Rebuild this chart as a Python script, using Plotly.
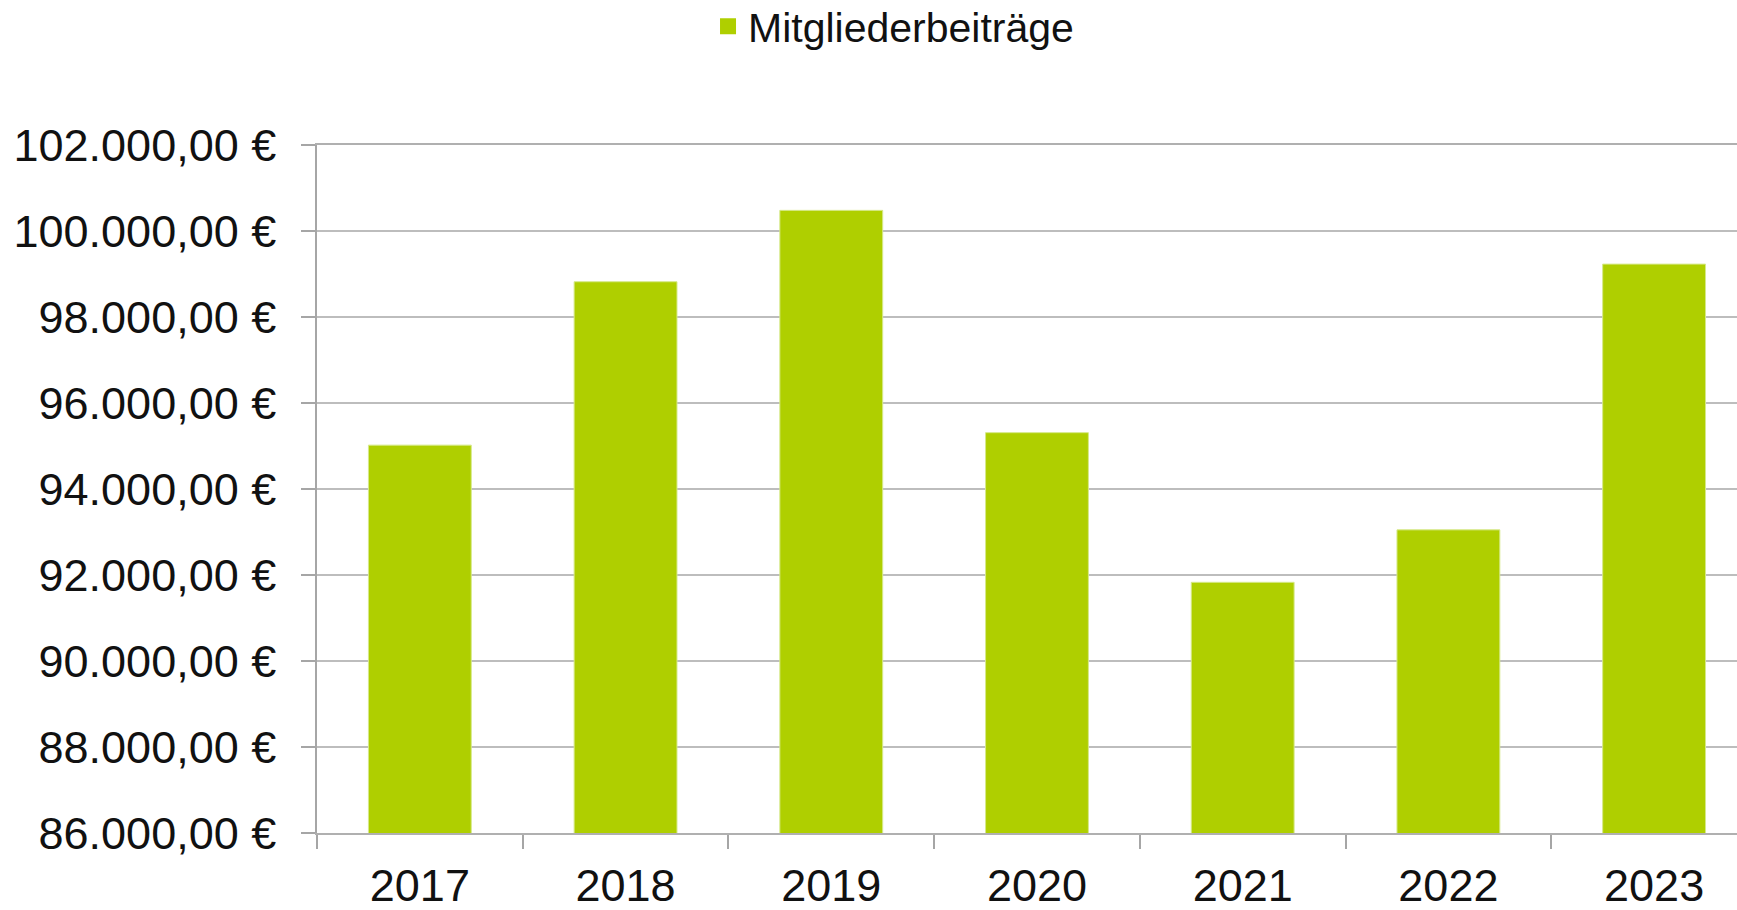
import plotly.graph_objects as go

years = ["2017", "2018", "2019", "2020", "2021", "2022", "2023"]
beitraege = [95020, 98820, 100480, 95310, 91830, 93050, 99230]
series_name = "Mitgliederbeiträge"

BAR_COLOR = "#AFCF00"
FONT = "Liberation Sans, Arial, sans-serif"
FS_AXIS = 45
FS_LEG = 41

fig = go.Figure()
fig.add_trace(go.Bar(
    x=years, y=beitraege, name=series_name, width=0.5,
    marker=dict(color=BAR_COLOR, line=dict(color="#d6e98a", width=1)),
    showlegend=False,
))
# legend entry with a larger square swatch
fig.add_trace(go.Scatter(
    x=[None], y=[None], mode="markers", name=series_name,
    marker=dict(symbol="square", size=20, color=BAR_COLOR),
    showlegend=True,
))

fig.update_layout(
    width=1737, height=910,
    margin=dict(l=317, r=0, t=145, b=77, autoexpand=False),
    paper_bgcolor="white", plot_bgcolor="white",
    font=dict(family=FONT, size=FS_AXIS, color="#111111"),
    separators=",.",
    legend=dict(
        orientation="h", x=0.406, xanchor="center", y=1.172, yanchor="middle",
        font=dict(family=FONT, size=FS_LEG, color="#111111"),
        itemwidth=30, bgcolor="rgba(0,0,0,0)",
    ),
    xaxis=dict(
        type="category", range=[-0.5, 6.403],
        showline=True, mirror=True, linecolor="#b0b0b0", linewidth=1.5,
        ticks="outside", tickson="boundaries", ticklen=14, tickcolor="#a6a6a6", tickwidth=1.5,
        showgrid=False, ticklabelstandoff=12,
        tickfont=dict(family=FONT, size=FS_AXIS, color="#111111"),
    ),
    yaxis=dict(
        range=[86000, 102000], dtick=2000, tick0=86000,
        tickformat=",.2f", ticksuffix=" €",
        showline=True, linecolor="#a6a6a6", linewidth=1.5,
        ticks="outside", ticklen=14, tickcolor="#a6a6a6", tickwidth=1.5,
        showgrid=True, gridcolor="#bdbdbd", gridwidth=1.5,
        zeroline=False, ticklabelstandoff=16,
        tickfont=dict(family=FONT, size=FS_AXIS, color="#111111"),
    ),
    bargap=0.5,
)

fig.write_html(
    "out.html",
    config={"displayModeBar": False},
    post_script="document.body.style.margin='0px';document.body.style.overflow='hidden';",
)
